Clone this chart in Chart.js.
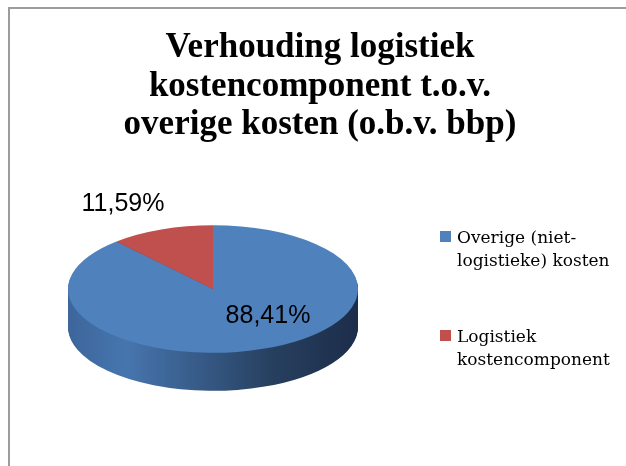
<!DOCTYPE html>
<html>
<head>
<meta charset="utf-8">
<script src="https://cdn.jsdelivr.net/npm/chart.js@4.4.0/dist/chart.umd.min.js"></script>
<style>
  body { margin: 0; background: #fff; }
  #frame { position: absolute; left: 8px; top: 7px; right: 0; bottom: 0;
           border-left: 2px solid #9c9c9c; border-top: 2px solid #9c9c9c; }
  #wrap { position: absolute; left: 0; top: 0; width: 626px; height: 466px; }
</style>
</head>
<body>
<div id="frame"></div>
<div id="wrap"><canvas id="pieChart"></canvas></div>
<script>
// chart data
const TITLE_LINES = ['Verhouding logistiek', 'kostencomponent t.o.v.', 'overige kosten (o.b.v. bbp)'];
const CATEGORIES = ['Overige (niet-logistieke) kosten', 'Logistiek kostencomponent'];
const LEGEND_LINES = [['Overige (niet-', 'logistieke) kosten'], ['Logistiek', 'kostencomponent']];
const SHARES = [88.41, 11.59];

const TOP_COLORS = ['#4f81bd', '#c0504d'];
const SIDE_RED = '#8a3533';

// fake 3D: squash the pie vertically and stack darker copies below it
const TILT = { cx: 213, cy: 289, k: 0.44, depth: 38 };

const fmtPct = v => v.toFixed(2).replace('.', ',') + '%';

function sideGradient(ctx, x0, x1) {
  const g = ctx.createLinearGradient(x0, 0, x1, 0);
  g.addColorStop(0, '#3d669b');
  g.addColorStop(0.2, '#4675ae');
  g.addColorStop(0.45, '#375b88');
  g.addColorStop(0.7, '#27405f');
  g.addColorStop(1, '#1c2d4a');
  return g;
}

function tiltTransform(ctx, arc, dy) {
  ctx.translate(TILT.cx - arc.x, TILT.cy + dy - TILT.k * arc.y);
  // keep x, squash y around the pie centre
  ctx.translate(arc.x, 0);
  ctx.scale(1, TILT.k);
  ctx.translate(-arc.x, 0);
}

const tiltPlugin = {
  id: 'tilt',
  beforeDatasetsDraw(chart) {
    const ctx = chart.ctx;
    const arcs = chart.getDatasetMeta(0).data;
    const first = arcs[0];
    for (let d = TILT.depth; d >= 1; d--) {
      ctx.save();
      tiltTransform(ctx, first, d);
      const g = sideGradient(ctx, first.x - first.outerRadius, first.x + first.outerRadius);
      arcs.forEach((arc, i) => {
        const saved = arc.options;
        arc.options = { ...saved, backgroundColor: i === 0 ? g : SIDE_RED };
        arc.draw(ctx);
        arc.options = saved;
      });
      ctx.restore();
    }
    ctx.save();
    tiltTransform(ctx, first, 0);
  },
  afterDatasetsDraw(chart, args, opts) {
    const ctx = chart.ctx;
    ctx.restore();

    // percentage labels
    const arcs = chart.getDatasetMeta(0).data;
    ctx.save();
    ctx.font = '25px "Liberation Sans", Arial, sans-serif';
    ctx.fillStyle = '#000';
    ctx.textAlign = 'center';
    ctx.textBaseline = 'middle';
    arcs.forEach((arc, i) => {
      const mid = (arc.startAngle + arc.endAngle) / 2;
      const r = arc.outerRadius * opts.radial[i];
      const px = TILT.cx + Math.cos(mid) * r + opts.shift[i][0];
      const py = TILT.cy + TILT.k * Math.sin(mid) * r + opts.shift[i][1];
      ctx.fillText(fmtPct(SHARES[i]), px, py);
    });
    ctx.restore();
  }
};

const legendPlugin = {
  id: 'sideLegend',
  afterDraw(chart, args, opts) {
    const ctx = chart.ctx;
    ctx.save();
    ctx.font = '17px "DejaVu Serif", serif';
    ctx.fillStyle = '#000';
    ctx.textBaseline = 'alphabetic';
    LEGEND_LINES.forEach((lines, i) => {
      const base = opts.firstBaselines[i];
      ctx.fillStyle = TOP_COLORS[i];
      ctx.fillRect(opts.x, base - 12, 11, 11);
      ctx.fillStyle = '#000';
      lines.forEach((line, j) => ctx.fillText(line, opts.x + 17, base + j * opts.lineHeight));
    });
    ctx.restore();
  }
};

new Chart(document.getElementById('pieChart').getContext('2d'), {
  type: 'pie',
  data: {
    labels: CATEGORIES,
    datasets: [{
      data: SHARES,
      backgroundColor: TOP_COLORS,
      borderWidth: 0,
      hoverOffset: 0,
      radius: 145,
      clip: false
    }]
  },
  options: {
    responsive: true,
    maintainAspectRatio: false,
    animation: false,
    events: [],
    layout: { padding: { left: 14 } },
    plugins: {
      legend: { display: false },
      tooltip: { enabled: false },
      title: {
        display: true,
        text: TITLE_LINES,
        color: '#000',
        font: { family: '"Liberation Serif", serif', size: 35, weight: 'bold', lineHeight: 1.1 },
        padding: { top: 29, bottom: 4 }
      },
      tilt: { radial: [0.6, 1.2], shift: [[24, -9], [-28, -13]] },
      sideLegend: { x: 440, firstBaselines: [243, 342], lineHeight: 23 }
    }
  },
  plugins: [tiltPlugin, legendPlugin]
});
</script>
</body>
</html>
